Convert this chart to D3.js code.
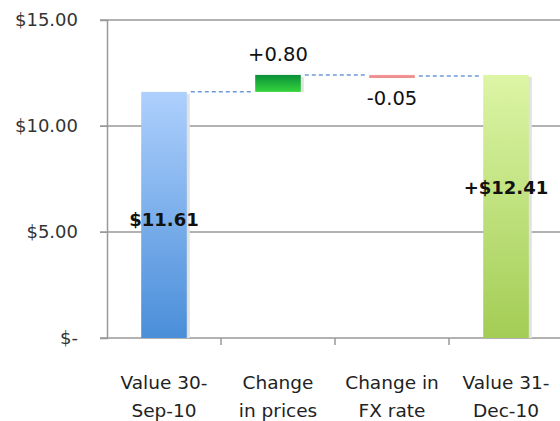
<!DOCTYPE html>
<html>
<head>
<meta charset="utf-8">
<script src="https://cdn.jsdelivr.net/npm/d3@7"></script>
<style>
  body { margin: 0; background: #fff; }
  text { font-family: "DejaVu Sans", sans-serif; }
</style>
</head>
<body>
<div id="chart"></div>
<script>
/* Waterfall chart: value change Sep-10 to Dec-10 */

const categories = [["Value 30-", "Sep-10"], ["Change", "in prices"], ["Change in", "FX rate"], ["Value 31-", "Dec-10"]];
const values = [11.61, 0.80, -0.05, 12.41];
const kinds = ["total", "delta", "delta", "total"];
const valueLabels = ["$11.61", "+0.80", "-0.05", "+$12.41"];
const labelAt = [5.6, 13.4, 11.3, 7.1];   // data units where the value label sits
const yTicks = [0, 5, 10, 15];
const yTickLabels = ["$-", "$5.00", "$10.00", "$15.00"];

const width = 560,
    height = 421,
    margin = ({top: 20, right: -3, bottom: 83, left: 107});

// running totals for the waterfall
let running = 0;
const bars = values.map((v, i) => {
    let b;
    if (kinds[i] === "total") {
        b = {i, start: 0, end: v};
        running = v;
    } else {
        b = {i, start: running, end: running + v};
        running += v;
    }
    return b;
});

let svg = d3.select("#chart")
    .append("svg")
    .attr("width", width)
    .attr("height", height);

const defs = svg.append("defs");
function grad(id, top, bottom) {
    const g = defs.append("linearGradient").attr("id", id)
        .attr("x1", 0).attr("y1", 0).attr("x2", 0).attr("y2", 1);
    g.append("stop").attr("offset", "0%").attr("stop-color", top);
    g.append("stop").attr("offset", "100%").attr("stop-color", bottom);
}
grad("g0", "#aed0fd", "#4a8ed9");
grad("g1", "#0b8f3a", "#35d43c");
grad("g2", "#f4a0a0", "#ee7f7f");
grad("g3", "#dcf5a6", "#a3cd55");
const fills = ["url(#g0)", "url(#g1)", "url(#g2)", "url(#g3)"];

let x = d3.scaleBand()
    .domain(d3.range(categories.length))
    .range([margin.left, width - margin.right])
    .padding(0);

let y = d3.scaleLinear()
    .domain([0, 15])
    .range([height - margin.bottom, margin.top]);

const barW = x.bandwidth() * 0.4;

// gridlines
svg.append("g")
    .selectAll("line")
    .data(yTicks)
    .join("line")
    .attr("x1", margin.left - 7)
    .attr("x2", width)
    .attr("y1", d => y(d))
    .attr("y2", d => y(d))
    .attr("stroke", "#999")
    .attr("stroke-width", 1.5);

// y axis
const yAxis = g => g
    .attr("transform", `translate(${margin.left},0)`)
    .call(d3.axisLeft(y).tickValues(yTicks).tickFormat((d, i) => yTickLabels[i]).tickSize(7).tickPadding(22))
    .call(g => g.select(".domain").attr("stroke", "#999").attr("stroke-width", 1.5))
    .call(g => g.selectAll(".tick line").attr("stroke", "#999"))
    .call(g => g.selectAll(".tick text")
        .attr("font-family", "DejaVu Sans, sans-serif")
        .attr("font-size", 18)
        .attr("fill", "#333"));
svg.append("g").call(yAxis);

// x axis ticks at band boundaries
svg.append("g")
    .selectAll("line")
    .data(d3.range(1, categories.length))
    .join("line")
    .attr("x1", d => x(d))
    .attr("x2", d => x(d))
    .attr("y1", y(0))
    .attr("y2", y(0) + 7)
    .attr("stroke", "#999")
    .attr("stroke-width", 1.5);

// category labels
const cat = svg.append("g")
    .selectAll("text")
    .data(categories)
    .join("text")
    .attr("text-anchor", "middle")
    .attr("font-size", 18.5)
    .attr("fill", "#222")
    .attr("transform", (d, i) => `translate(${x(i) + x.bandwidth() / 2},${y(0) + 51})`);
cat.selectAll("tspan")
    .data(d => d)
    .join("tspan")
    .attr("x", 0)
    .attr("dy", (d, i) => i === 0 ? 0 : 28)
    .text(d => d);

// connectors
const conn = bars.slice(0, -1);
svg.append("g")
    .selectAll("line")
    .data(conn)
    .join("line")
    .attr("x1", d => x(d.i) + x.bandwidth() / 2 + barW / 2 + 4)
    .attr("x2", d => x(d.i + 1) + x.bandwidth() / 2 - barW / 2 - 4)
    .attr("y1", d => y(d.end))
    .attr("y2", d => y(d.end))
    .attr("stroke", "#6d9ad6")
    .attr("stroke-width", 1.5)
    .attr("stroke-dasharray", "4,3");

// shadows
svg.append("g")
    .selectAll("rect")
    .data(bars)
    .join("rect")
    .attr("x", d => x(d.i) + x.bandwidth() / 2 - barW / 2 + 3)
    .attr("width", barW)
    .attr("y", d => y(Math.max(d.start, d.end)) + 2)
    .attr("height", d => Math.abs(y(d.start) - y(d.end)) - 2)
    .attr("fill", "#e2e2e2");

// bars
svg.append("g")
    .selectAll("rect")
    .data(bars)
    .join("rect")
    .attr("x", d => x(d.i) + x.bandwidth() / 2 - barW / 2)
    .attr("width", barW)
    .attr("y", d => y(Math.max(d.start, d.end)))
    .attr("height", d => Math.max(3, Math.abs(y(d.start) - y(d.end))))
    .attr("fill", d => fills[d.i]);

// value labels
svg.append("g")
    .selectAll("text")
    .data(bars)
    .join("text")
    .attr("x", d => x(d.i) + x.bandwidth() / 2)
    .attr("y", d => y(labelAt[d.i]))
    .attr("dy", "0.35em")
    .attr("text-anchor", "middle")
    .attr("font-size", d => kinds[d.i] === "total" ? 18 : 19.5)
    .attr("font-weight", d => kinds[d.i] === "total" ? "bold" : "normal")
    .attr("fill", "#111")
    .text(d => valueLabels[d.i]);
</script>
</body>
</html>
